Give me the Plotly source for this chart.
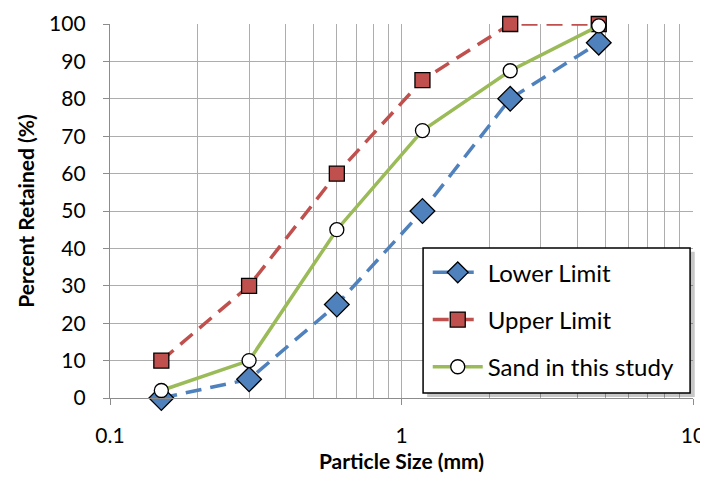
import plotly.graph_objects as go

sizes = [0.15, 0.3, 0.6, 1.18, 2.36, 4.75]
lower = [0, 5, 25, 50, 80, 95]
upper = [10, 30, 60, 85, 100, 100]
sand = [2, 10, 45, 71.5, 87.5, 99.5]

blue = "#4F81BD"
red = "#C0504D"
green = "#9BBB59"
font = "Lato, Calibri, sans-serif"

fig = go.Figure()
fig.add_trace(go.Scatter(x=sizes, y=lower, name="Lower Limit", mode="lines+markers",
                         line=dict(color=blue, width=3.5, dash="16px,9px"),
                         marker=dict(symbol="diamond", size=19, color=blue, line=dict(color="black", width=1.3)),
                         legendgroup="a", cliponaxis=False))
fig.add_trace(go.Scatter(x=sizes, y=upper, name="Upper Limit", mode="lines+markers",
                         line=dict(color=red, width=3.5, dash="16px,9px"),
                         marker=dict(symbol="square", size=15, color=red, line=dict(color="black", width=1.3)),
                         legendgroup="b", cliponaxis=False))
fig.add_trace(go.Scatter(x=sizes, y=sand, name="Sand in this study", mode="lines+markers",
                         line=dict(color=green, width=3.5),
                         marker=dict(symbol="circle", size=14, color="white", line=dict(color="black", width=1.3)),
                         legendgroup="c", cliponaxis=False))

grid = "#ADADAD"
axcol = "#8C8C8C"
fig.update_layout(
    width=700, height=465,
    margin=dict(l=102, r=15, t=16, b=75),
    paper_bgcolor="white", plot_bgcolor="white",
    font=dict(family=font, size=21, color="black"),
    showlegend=True,
    legend=dict(x=0.545, y=0.395, xanchor="left", yanchor="top",
                bgcolor="rgba(0,0,0,0)", borderwidth=0,
                font=dict(size=24), tracegroupgap=13, itemwidth=50),
    xaxis=dict(type="log", range=[-1, 1], tickvals=[0.1, 1, 10], ticktext=["0.1", "1", "10"],
               showgrid=True, gridcolor=grid, gridwidth=1, automargin=False,
               minor=dict(tickvals=[0.2, 0.3, 0.4, 0.5, 0.6, 0.7, 0.8, 0.9, 2, 3, 4, 5, 6, 7, 8, 9],
                          showgrid=True, gridcolor=grid, gridwidth=1),
               showline=True, linecolor=axcol, linewidth=1.3,
               ticks="outside", ticklen=6, tickcolor=axcol, ticklabelstandoff=13,
               ticklabeloverflow="allow",
               title=dict(text="<b>Particle Size (mm)</b>", font=dict(size=21), standoff=12),
               zeroline=False),
    yaxis=dict(range=[0, 100], dtick=10, showgrid=True, gridcolor=grid, gridwidth=1, automargin=False,
               showline=True, linecolor=axcol, linewidth=1.3,
               ticks="outside", ticklen=6, tickcolor=axcol, ticklabelstandoff=13,
               title=dict(text="<b>Percent Retained (%)</b>", font=dict(size=21), standoff=8),
               zeroline=False),
)
# legend shadow and box
fig.add_shape(type="rect", xref="paper", yref="paper", x0=0.544, x1=1.003, y0=0.003, y1=0.391,
              fillcolor="rgba(0,0,0,0.22)", line=dict(width=0), layer="above")
fig.add_shape(type="rect", xref="paper", yref="paper", x0=0.537, x1=0.995, y0=0.0134, y1=0.401,
              fillcolor="white", line=dict(color="black", width=1.5), layer="above")
fig.write_html("out.html")
